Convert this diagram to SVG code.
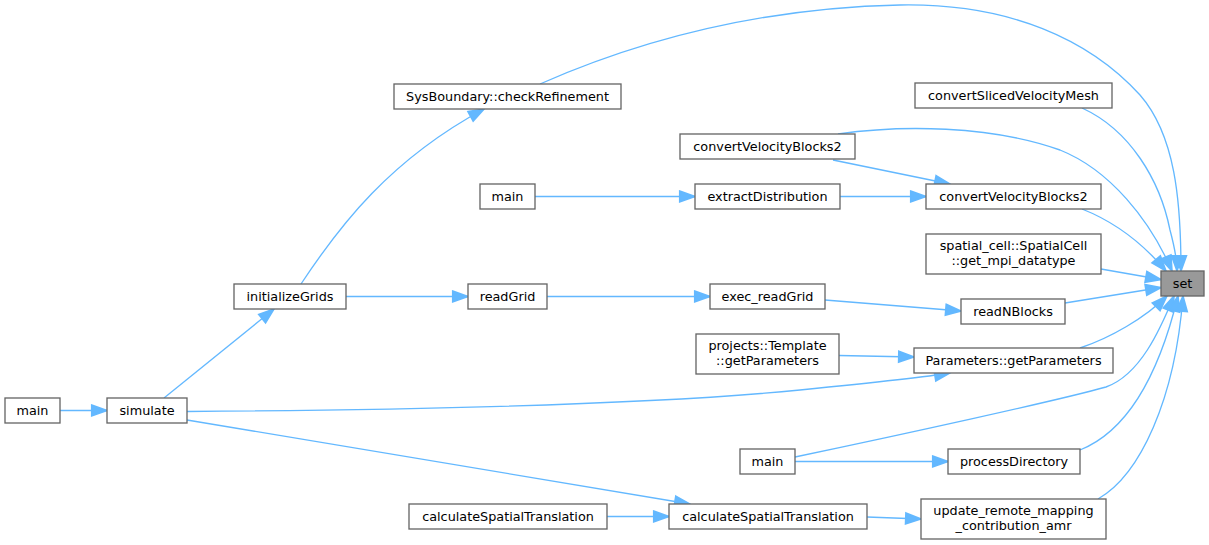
<svg xmlns="http://www.w3.org/2000/svg" width="1209" height="545" viewBox="0 0 1209 545">
<style>
.n rect{fill:#ffffff;stroke:#666666;stroke-width:1.33}
.n.hl rect{fill:#999999}
.n text{font-family:"DejaVu Sans","Liberation Sans",sans-serif;font-size:12.8px;fill:#000000;text-anchor:middle}
.e path{fill:none;stroke:#63b8ff;stroke-width:1.33;marker-end:url(#ah)}
</style>
<defs>
<marker id="ah" markerUnits="userSpaceOnUse" markerWidth="20" markerHeight="20" viewBox="-2 -7 17 14" refX="13" refY="0" orient="auto" overflow="visible">
<path d="M0,-4.65 L13,0 L0,4.65 Z" fill="#63b8ff" stroke="#63b8ff" stroke-width="1.33"/>
</marker>
</defs>
<rect width="1209" height="545" fill="#ffffff"/>
<g id="edges" class="e">
<path d="M540,84 C640,40 760,8 900,5 C1010,3 1090,40 1140,95 C1175,135 1181,200 1181,271"/>
<path d="M1082,108 C1130,130 1160,180 1170,230 C1174,245 1177,258 1177,271"/>
<path d="M838,134 C900,125 990,125 1060,150 C1110,170 1150,220 1172,271"/>
<path d="M1082,209 C1110,220 1140,240 1166,271"/>
<path d="M1101,269 L1161,279.5"/>
<path d="M1065,303 L1161,287.5"/>
<path d="M1080,348 C1110,338 1145,318 1167,296"/>
<path d="M795,457 C900,435 1060,400 1106,387 C1140,375 1160,330 1174,296"/>
<path d="M1080,450 C1130,430 1160,370 1178,296"/>
<path d="M1098,499 C1140,475 1175,400 1183,296"/>
<path d="M833,160 L950,184"/>
<path d="M840,196.5 L926,196.5"/>
<path d="M535,196.5 L695,196.5"/>
<path d="M825,300 L961,311"/>
<path d="M547,296.5 L710,296.5"/>
<path d="M346,296.5 L468,296.5"/>
<path d="M301,284 C340,225 390,160 484,109"/>
<path d="M164,398 L274,309"/>
<path d="M60,410.5 L107,410.5"/>
<path d="M187,411.5 C400,410 650,405 800,390 C870,383 920,378 950,373"/>
<path d="M187,420 L690,504"/>
<path d="M839,355.5 L914,357"/>
<path d="M795,461.5 L948,461.5"/>
<path d="M607,516.5 L669,516.5"/>
<path d="M867,517 L921,519"/>
</g>
<g id="node-set" class="n hl"><rect x="1161" y="271" width="43" height="25"/><text x="1182.5" y="288">set</text></g>
<g id="node-sysboundary" class="n"><rect x="394" y="84" width="227" height="25"/><text x="507.5" y="101">SysBoundary::checkRefinement</text></g>
<g id="node-convertsliced" class="n"><rect x="915" y="83" width="197" height="25"/><text x="1013.5" y="100">convertSlicedVelocityMesh</text></g>
<g id="node-cvb2-top" class="n"><rect x="680" y="134" width="175" height="25"/><text x="767.5" y="151">convertVelocityBlocks2</text></g>
<g id="node-main-extract" class="n"><rect x="480" y="184" width="55" height="25"/><text x="507.5" y="201">main</text></g>
<g id="node-extract" class="n"><rect x="695" y="184" width="145" height="25"/><text x="767.5" y="201">extractDistribution</text></g>
<g id="node-cvb2" class="n"><rect x="926" y="184" width="175" height="25"/><text x="1013.5" y="201">convertVelocityBlocks2</text></g>
<g id="node-spatialcell" class="n"><rect x="926" y="234" width="175" height="40"/><text x="1013.5" y="250">spatial_cell::SpatialCell</text><text x="1013.5" y="264.5">::get_mpi_datatype</text></g>
<g id="node-initgrids" class="n"><rect x="234" y="284" width="112" height="25"/><text x="290" y="301">initializeGrids</text></g>
<g id="node-readgrid" class="n"><rect x="468" y="284" width="79" height="25"/><text x="507.5" y="301">readGrid</text></g>
<g id="node-execreadgrid" class="n"><rect x="710" y="284" width="115" height="25"/><text x="767.5" y="301">exec_readGrid</text></g>
<g id="node-readnblocks" class="n"><rect x="961" y="299" width="104" height="25"/><text x="1013" y="316">readNBlocks</text></g>
<g id="node-template" class="n"><rect x="696" y="334" width="143" height="40"/><text x="767.5" y="350">projects::Template</text><text x="767.5" y="364.5">::getParameters</text></g>
<g id="node-params" class="n"><rect x="914" y="348" width="199" height="25"/><text x="1013.5" y="365">Parameters::getParameters</text></g>
<g id="node-main-left" class="n"><rect x="5" y="398" width="55" height="25"/><text x="32.5" y="415">main</text></g>
<g id="node-simulate" class="n"><rect x="107" y="398" width="80" height="25"/><text x="147" y="415">simulate</text></g>
<g id="node-main-bottom" class="n"><rect x="740" y="449" width="55" height="25"/><text x="767.5" y="466">main</text></g>
<g id="node-processdir" class="n"><rect x="948" y="449" width="132" height="25"/><text x="1014" y="466">processDirectory</text></g>
<g id="node-calc-left" class="n"><rect x="409" y="504" width="198" height="25"/><text x="508" y="521">calculateSpatialTranslation</text></g>
<g id="node-calc-mid" class="n"><rect x="669" y="504" width="198" height="25"/><text x="768" y="521">calculateSpatialTranslation</text></g>
<g id="node-update" class="n"><rect x="921" y="499" width="185" height="40"/><text x="1013.5" y="515">update_remote_mapping</text><text x="1013.5" y="529.5">_contribution_amr</text></g>
</svg>
